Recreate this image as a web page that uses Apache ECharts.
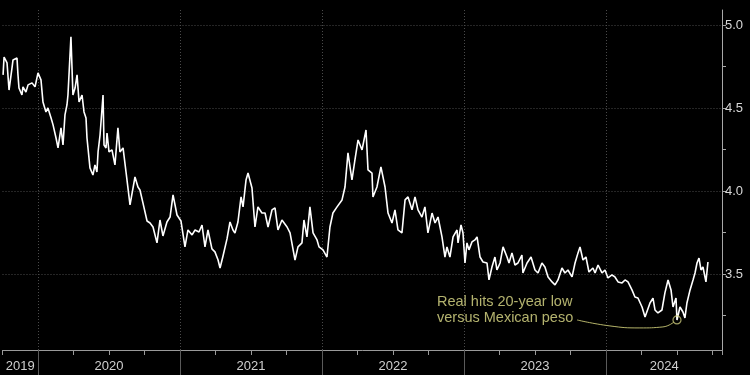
<!DOCTYPE html>
<html>
<head>
<meta charset="utf-8">
<script src="https://cdn.jsdelivr.net/npm/echarts@6/dist/echarts.min.js"></script>
<style>
html,body{margin:0;padding:0;background:#000;}
#chart{width:750px;height:375px;}
</style>
</head>
<body>
<div id="chart"></div>
<script>
// Time as fractional year, values = MXN per BRL
const xYears = [2019.754,2019.761,2019.782,2019.796,2019.817,2019.824,2019.852,2019.859,2019.866,2019.887,2019.894,2019.915,2019.930,2019.958,2019.979,2020.000,2020.021,2020.035,2020.056,2020.070,2020.092,2020.106,2020.127,2020.141,2020.162,2020.176,2020.190,2020.204,2020.211,2020.232,2020.246,2020.261,2020.275,2020.289,2020.310,2020.324,2020.338,2020.345,2020.366,2020.387,2020.401,2020.415,2020.423,2020.437,2020.458,2020.465,2020.479,2020.486,2020.500,2020.521,2020.542,2020.563,2020.577,2020.599,2020.620,2020.648,2020.683,2020.704,2020.718,2020.739,2020.768,2020.789,2020.810,2020.838,2020.859,2020.880,2020.908,2020.930,2020.951,2020.979,2021.007,2021.035,2021.056,2021.085,2021.106,2021.134,2021.155,2021.176,2021.197,2021.225,2021.246,2021.268,2021.282,2021.303,2021.331,2021.352,2021.373,2021.387,2021.408,2021.430,2021.444,2021.465,2021.479,2021.507,2021.528,2021.549,2021.577,2021.599,2021.620,2021.648,2021.669,2021.690,2021.718,2021.754,2021.775,2021.810,2021.831,2021.859,2021.873,2021.894,2021.915,2021.937,2021.965,2021.979,2022.007,2022.035,2022.056,2022.077,2022.106,2022.141,2022.162,2022.183,2022.211,2022.232,2022.254,2022.282,2022.310,2022.324,2022.352,2022.359,2022.387,2022.415,2022.444,2022.465,2022.493,2022.514,2022.535,2022.563,2022.585,2022.606,2022.634,2022.655,2022.676,2022.704,2022.725,2022.746,2022.775,2022.796,2022.817,2022.845,2022.866,2022.880,2022.901,2022.923,2022.951,2022.958,2022.979,2022.993,2023.007,2023.021,2023.035,2023.056,2023.077,2023.092,2023.113,2023.134,2023.162,2023.176,2023.197,2023.218,2023.232,2023.254,2023.275,2023.303,2023.317,2023.338,2023.359,2023.380,2023.408,2023.415,2023.444,2023.472,2023.500,2023.521,2023.549,2023.570,2023.592,2023.620,2023.641,2023.662,2023.690,2023.711,2023.732,2023.761,2023.782,2023.803,2023.817,2023.838,2023.859,2023.880,2023.908,2023.923,2023.944,2023.972,2023.993,2024.014,2024.042,2024.063,2024.085,2024.113,2024.134,2024.155,2024.183,2024.204,2024.225,2024.254,2024.275,2024.289,2024.310,2024.331,2024.345,2024.366,2024.394,2024.415,2024.437,2024.458,2024.472,2024.493,2024.500,2024.521,2024.542,2024.556,2024.570,2024.592,2024.613,2024.627,2024.641,2024.655,2024.669,2024.683,2024.704,2024.718];
const values = [4.699,4.807,4.771,4.608,4.741,4.789,4.801,4.699,4.620,4.578,4.627,4.596,4.639,4.651,4.627,4.711,4.669,4.536,4.476,4.500,4.440,4.398,4.319,4.259,4.380,4.277,4.458,4.518,4.578,4.928,4.578,4.620,4.699,4.536,4.578,4.476,4.440,4.319,4.139,4.096,4.157,4.114,4.235,4.337,4.578,4.277,4.259,4.349,4.235,4.247,4.157,4.380,4.235,4.259,4.114,3.916,4.084,4.024,4.006,3.928,3.819,3.807,3.783,3.687,3.825,3.729,3.813,3.843,3.976,3.855,3.819,3.663,3.765,3.735,3.765,3.753,3.795,3.663,3.765,3.651,3.633,3.584,3.536,3.608,3.711,3.813,3.765,3.747,3.813,3.964,3.904,4.066,4.108,4.018,3.783,3.904,3.867,3.867,3.783,3.886,3.898,3.765,3.825,3.783,3.747,3.584,3.663,3.687,3.825,3.723,3.904,3.747,3.705,3.663,3.645,3.602,3.783,3.867,3.904,3.946,4.024,4.229,4.066,4.187,4.307,4.247,4.367,4.127,4.108,3.964,4.024,4.145,4.024,3.867,3.807,3.886,3.765,3.747,3.946,3.964,3.886,3.964,3.886,3.843,3.904,3.747,3.867,3.807,3.843,3.723,3.602,3.663,3.602,3.723,3.765,3.687,3.795,3.747,3.566,3.687,3.645,3.693,3.705,3.723,3.602,3.572,3.566,3.464,3.542,3.602,3.524,3.566,3.663,3.602,3.566,3.627,3.554,3.566,3.614,3.506,3.566,3.602,3.524,3.506,3.566,3.542,3.482,3.452,3.434,3.464,3.536,3.506,3.524,3.482,3.566,3.627,3.663,3.584,3.602,3.512,3.536,3.506,3.554,3.506,3.524,3.476,3.494,3.482,3.452,3.446,3.464,3.452,3.404,3.361,3.355,3.301,3.241,3.235,3.325,3.355,3.283,3.265,3.283,3.386,3.464,3.404,3.301,3.355,3.223,3.301,3.271,3.235,3.325,3.404,3.464,3.506,3.566,3.596,3.524,3.542,3.452,3.572];

const yearLabels = ['2019','2020','2021','2022','2023','2024'];
const yearLabelPos = [2019.875, 2020.5, 2021.5, 2022.5, 2023.5, 2024.41];
const yearBounds = [2020, 2021, 2022, 2023, 2024];
const yTickVals = [3.25, 3.5, 3.75, 4.0, 4.25, 4.5, 4.75, 5.0];
const yLabelVals = [3.5, 4.0, 4.5, 5.0];

const annotationText = 'Real hits 20-year low\nversus Mexican peso';
const annotationAnchor = [2022.810, 3.283];
const lowPoint = [2024.500, 3.223];
const connectorX = [2023.796, 2024.028, 2024.239, 2024.401, 2024.479];
const connectorY = [3.223, 3.187, 3.175, 3.181, 3.211];

const X_MIN = 2019.75, X_MAX = 2024.817, Y_MIN = 3.042, Y_MAX = 5.09;
const FONT = 'Liberation Sans';
const ANNOT = '#e0df8a';

const chart = echarts.init(document.getElementById('chart'), null, {renderer: 'canvas'});
const seriesData = xYears.map((x, i) => [x, values[i]]);

chart.setOption({
  backgroundColor: '#000',
  animation: false,
  grid: {left: 2.5, right: 28, top: 10, bottom: 25},
  xAxis: [{
    type: 'value', min: X_MIN, max: X_MAX, interval: 0.25,
    axisLine: {show: true, lineStyle: {color: '#9a9a9a', width: 1}},
    axisTick: {show: true, length: 5, lineStyle: {color: '#9a9a9a'}},
    axisLabel: {
      show: true, customValues: yearLabelPos, margin: 10,
      color: '#cfcfcf', fontSize: 13, fontFamily: FONT,
      formatter: v => yearLabels[yearLabelPos.indexOf(v)] || ''
    },
    splitLine: {show: false}
  }, {
    type: 'value', min: X_MIN, max: X_MAX, position: 'bottom',
    axisLine: {show: false},
    axisTick: {show: true, customValues: yearBounds, length: 26, lineStyle: {color: '#5a5a5a'}},
    axisLabel: {show: false},
    splitLine: {show: false}
  }],
  yAxis: [{
    type: 'value', position: 'right', min: Y_MIN, max: Y_MAX,
    axisLine: {show: true, lineStyle: {color: '#a8a8a8', width: 1}},
    axisTick: {show: true, customValues: yTickVals, length: 4, lineStyle: {color: '#a8a8a8'}},
    axisLabel: {
      show: true, customValues: yLabelVals, margin: 3,
      color: '#d8d8d8', fontSize: 13, fontFamily: FONT,
      formatter: v => v.toFixed(1)
    },
    splitLine: {show: false}
  }],
  series: [{
    type: 'line',
    data: seriesData,
    showSymbol: false,
    symbol: 'none',
    lineStyle: {color: '#ffffff', width: 1.6},
    z: 5,
    markLine: {
      silent: true, symbol: ['none', 'none'], label: {show: false},
      lineStyle: {color: '#4a4a4a', type: [1, 2], width: 1},
      emphasis: {disabled: true},
      data: yLabelVals.map(v => ({yAxis: v})).concat(yearBounds.map(v => ({xAxis: v})))
    }
  }, {
    type: 'line',
    data: connectorX.map((x, i) => [x, connectorY[i]]),
    smooth: 0.5,
    symbol: 'none',
    lineStyle: {color: '#b5b46a', width: 1},
    z: 6
  }, {
    type: 'scatter',
    data: [lowPoint],
    symbol: 'circle',
    symbolSize: 8,
    itemStyle: {color: 'rgba(0,0,0,0)', borderColor: '#c9c87a', borderWidth: 1.2},
    z: 7
  }, {
    type: 'scatter',
    data: [annotationAnchor],
    symbolSize: 0,
    label: {
      show: true, position: 'right', distance: 0,
      formatter: annotationText,
      color: ANNOT, fontSize: 14.5, lineHeight: 16, fontFamily: FONT, align: 'left'
    },
    z: 8
  }]
});
</script>
</body>
</html>
